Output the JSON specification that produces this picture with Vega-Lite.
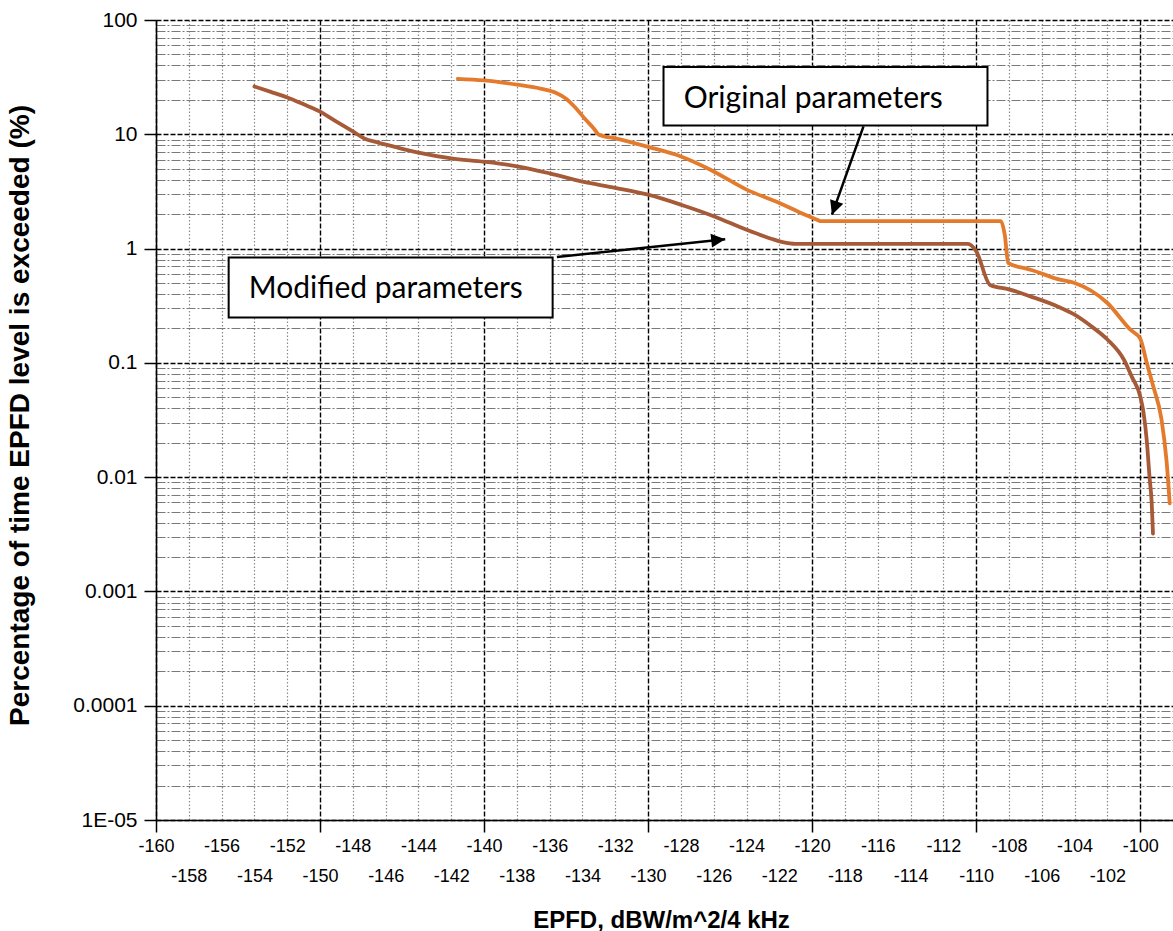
{
  "$schema": "https://vega.github.io/schema/vega-lite/v6.json",
  "width": 1017,
  "height": 800,
  "autosize": {"type": "none"},
  "padding": {"left": 156, "top": 20, "right": 0, "bottom": 111},
  "background": "white",
  "config": {
    "view": {"stroke": null},
    "font": "Liberation Sans"
  },
  "resolve": {"axis": {"x": "independent", "y": "independent"}},
  "datasets": {
    "curves": [
      {"series": "Modified parameters", "epfd": -154.0, "pct": 26.2},
      {"series": "Modified parameters", "epfd": -153.0, "pct": 23.5},
      {"series": "Modified parameters", "epfd": -152.0, "pct": 21.0},
      {"series": "Modified parameters", "epfd": -151.0, "pct": 18.3},
      {"series": "Modified parameters", "epfd": -150.0, "pct": 15.8},
      {"series": "Modified parameters", "epfd": -149.0, "pct": 12.9},
      {"series": "Modified parameters", "epfd": -148.0, "pct": 10.6},
      {"series": "Modified parameters", "epfd": -147.3, "pct": 9.2},
      {"series": "Modified parameters", "epfd": -146.5, "pct": 8.5},
      {"series": "Modified parameters", "epfd": -145.5, "pct": 7.8},
      {"series": "Modified parameters", "epfd": -144.0, "pct": 6.9},
      {"series": "Modified parameters", "epfd": -142.0, "pct": 6.15},
      {"series": "Modified parameters", "epfd": -140.0, "pct": 5.75},
      {"series": "Modified parameters", "epfd": -138.0, "pct": 5.25},
      {"series": "Modified parameters", "epfd": -136.0, "pct": 4.55},
      {"series": "Modified parameters", "epfd": -134.0, "pct": 3.85},
      {"series": "Modified parameters", "epfd": -132.0, "pct": 3.4},
      {"series": "Modified parameters", "epfd": -130.0, "pct": 2.96},
      {"series": "Modified parameters", "epfd": -128.0, "pct": 2.42},
      {"series": "Modified parameters", "epfd": -126.0, "pct": 1.92},
      {"series": "Modified parameters", "epfd": -124.0, "pct": 1.46},
      {"series": "Modified parameters", "epfd": -122.5, "pct": 1.22},
      {"series": "Modified parameters", "epfd": -121.8, "pct": 1.14},
      {"series": "Modified parameters", "epfd": -121.0, "pct": 1.1},
      {"series": "Modified parameters", "epfd": -118.0, "pct": 1.1},
      {"series": "Modified parameters", "epfd": -114.0, "pct": 1.1},
      {"series": "Modified parameters", "epfd": -110.5, "pct": 1.1},
      {"series": "Modified parameters", "epfd": -110.0, "pct": 0.95},
      {"series": "Modified parameters", "epfd": -109.15, "pct": 0.48},
      {"series": "Modified parameters", "epfd": -108.0, "pct": 0.44},
      {"series": "Modified parameters", "epfd": -106.7, "pct": 0.382},
      {"series": "Modified parameters", "epfd": -105.0, "pct": 0.31},
      {"series": "Modified parameters", "epfd": -104.0, "pct": 0.264},
      {"series": "Modified parameters", "epfd": -103.0, "pct": 0.21},
      {"series": "Modified parameters", "epfd": -102.0, "pct": 0.16},
      {"series": "Modified parameters", "epfd": -101.0, "pct": 0.107},
      {"series": "Modified parameters", "epfd": -100.5, "pct": 0.075},
      {"series": "Modified parameters", "epfd": -100.0, "pct": 0.051},
      {"series": "Modified parameters", "epfd": -99.8, "pct": 0.037},
      {"series": "Modified parameters", "epfd": -99.6, "pct": 0.021},
      {"series": "Modified parameters", "epfd": -99.43, "pct": 0.01},
      {"series": "Modified parameters", "epfd": -99.3, "pct": 0.006},
      {"series": "Modified parameters", "epfd": -99.22, "pct": 0.0032},
      {"series": "Original parameters", "epfd": -141.6, "pct": 30.6},
      {"series": "Original parameters", "epfd": -140.0, "pct": 29.6},
      {"series": "Original parameters", "epfd": -138.0, "pct": 27.2},
      {"series": "Original parameters", "epfd": -136.5, "pct": 25.0},
      {"series": "Original parameters", "epfd": -135.6, "pct": 23.0},
      {"series": "Original parameters", "epfd": -135.0, "pct": 20.5},
      {"series": "Original parameters", "epfd": -134.5, "pct": 17.5},
      {"series": "Original parameters", "epfd": -133.8, "pct": 13.4},
      {"series": "Original parameters", "epfd": -133.3, "pct": 11.2},
      {"series": "Original parameters", "epfd": -133.0, "pct": 9.9},
      {"series": "Original parameters", "epfd": -132.0, "pct": 9.2},
      {"series": "Original parameters", "epfd": -130.0, "pct": 7.75},
      {"series": "Original parameters", "epfd": -128.0, "pct": 6.4},
      {"series": "Original parameters", "epfd": -126.2, "pct": 4.9},
      {"series": "Original parameters", "epfd": -124.0, "pct": 3.28},
      {"series": "Original parameters", "epfd": -122.0, "pct": 2.51},
      {"series": "Original parameters", "epfd": -120.5, "pct": 2.0},
      {"series": "Original parameters", "epfd": -119.7, "pct": 1.79},
      {"series": "Original parameters", "epfd": -119.5, "pct": 1.74},
      {"series": "Original parameters", "epfd": -114.0, "pct": 1.74},
      {"series": "Original parameters", "epfd": -108.5, "pct": 1.74},
      {"series": "Original parameters", "epfd": -108.25, "pct": 1.3},
      {"series": "Original parameters", "epfd": -108.05, "pct": 0.75},
      {"series": "Original parameters", "epfd": -107.0, "pct": 0.67},
      {"series": "Original parameters", "epfd": -106.7, "pct": 0.653},
      {"series": "Original parameters", "epfd": -104.9, "pct": 0.534},
      {"series": "Original parameters", "epfd": -104.0, "pct": 0.5},
      {"series": "Original parameters", "epfd": -102.0, "pct": 0.334},
      {"series": "Original parameters", "epfd": -100.6, "pct": 0.195},
      {"series": "Original parameters", "epfd": -100.0, "pct": 0.163},
      {"series": "Original parameters", "epfd": -99.6, "pct": 0.1},
      {"series": "Original parameters", "epfd": -99.2, "pct": 0.062},
      {"series": "Original parameters", "epfd": -98.7, "pct": 0.032},
      {"series": "Original parameters", "epfd": -98.4, "pct": 0.0142},
      {"series": "Original parameters", "epfd": -98.2, "pct": 0.0059}
    ],
    "notes": [
      {"label": "Original parameters", "left": -129.06, "right": -109.31, "top": 38.8, "bottom": 11.96, "tx": -119.93, "ty": 17.0, "ax": -116.87, "ay": 11.73, "bx": -118.79, "by": 1.98, "angle": 199.7},
      {"label": "Modified parameters", "left": -155.57, "right": -135.82, "top": 0.837, "bottom": 0.25, "tx": -145.99, "ty": 0.37, "ax": -135.56, "ay": 0.844, "bx": -125.3, "by": 1.208, "angle": 84}
    ]
  },
  "layer": [
    {
      "data": {"name": "notes"},
      "mark": {"type": "rect", "fill": "white", "stroke": "#000", "strokeWidth": 2},
      "encoding": {
        "x": {
          "field": "left", "type": "quantitative",
          "scale": {"domain": [-160, -98], "nice": false, "zero": false},
          "axis": {
            "orient": "bottom", "title": null, "labels": false, "ticks": false, "domain": false,
            "values": [-158, -156, -154, -152, -148, -146, -144, -142, -138, -136, -134, -132, -128, -126, -124, -122, -118, -116, -114, -112, -108, -106, -104, -102],
            "grid": true, "gridColor": "#8a8a8a", "gridDash": [1.5, 2], "gridWidth": 1.2, "gridOpacity": 1
          }
        },
        "x2": {"field": "right"},
        "y": {
          "field": "top", "type": "quantitative",
          "scale": {"type": "log", "domain": [0.00001, 100], "nice": false},
          "axis": {
            "orient": "left", "title": null, "labels": false, "ticks": false, "domain": false,
            "values": [0.00002, 0.00003, 0.00004, 0.00005, 0.00006, 0.00007, 0.00008, 0.00009,
                       0.0002, 0.0003, 0.0004, 0.0005, 0.0006, 0.0007, 0.0008, 0.0009,
                       0.002, 0.003, 0.004, 0.005, 0.006, 0.007, 0.008, 0.009,
                       0.02, 0.03, 0.04, 0.05, 0.06, 0.07, 0.08, 0.09,
                       0.2, 0.3, 0.4, 0.5, 0.6, 0.7, 0.8, 0.9,
                       2, 3, 4, 5, 6, 7, 8, 9,
                       20, 30, 40, 50, 60, 70, 80, 90],
            "grid": true, "gridColor": "#7a7a7a", "gridDash": [9, 2, 2, 2], "gridWidth": 1.2, "gridOpacity": 1
          }
        },
        "y2": {"field": "bottom"}
      }
    },
    {
      "data": {"name": "notes"},
      "mark": {"type": "text", "font": "Lato", "fontSize": 30, "color": "#000", "align": "center", "baseline": "alphabetic"},
      "encoding": {
        "x": {
          "field": "tx", "type": "quantitative",
          "scale": {"domain": [-160, -98], "nice": false, "zero": false},
          "axis": {
            "orient": "bottom", "title": null, "grid": false, "ticks": false, "tickSize": 0, "domain": false,
            "values": [-160, -156, -152, -148, -144, -140, -136, -132, -128, -124, -120, -116, -112, -108, -104, -100],
            "labelExpr": "'' + datum.value",
            "labelFont": "Liberation Sans", "labelFontSize": 18, "labelColor": "#000",
            "labelBaseline": "top", "labelPadding": 17,
            "labelOverlap": false, "labelFlush": false, "labelBound": false
          }
        },
        "y": {"field": "ty", "type": "quantitative", "scale": {"type": "log", "domain": [0.00001, 100], "nice": false}, "axis": null},
        "text": {"field": "label"}
      }
    },
    {
      "data": {"name": "curves"},
      "mark": {"type": "line", "interpolate": "monotone", "strokeWidth": 3.8, "strokeJoin": "round", "strokeCap": "round"},
      "encoding": {
        "x": {
          "field": "epfd", "type": "quantitative",
          "scale": {"domain": [-160, -98], "nice": false, "zero": false},
          "axis": {
            "orient": "bottom",
            "values": [-160, -150, -140, -130, -120, -110, -100],
            "labels": false,
            "title": "EPFD, dBW/m^2/4 kHz",
            "titleFont": "Liberation Sans", "titleFontSize": 24, "titleFontWeight": "bold", "titleColor": "#000",
            "titleX": 505, "titleY": 107, "titleAlign": "center", "titleBaseline": "alphabetic",
            "domainColor": "#000", "domainWidth": 1.5,
            "ticks": true, "tickSize": 12, "tickWidth": 1.5, "tickColor": "#000",
            "grid": true, "gridColor": "#000", "gridDash": [5, 2], "gridWidth": 1.4, "gridOpacity": 1
          }
        },
        "y": {
          "field": "pct", "type": "quantitative",
          "scale": {"type": "log", "domain": [0.00001, 100], "nice": false},
          "axis": {
            "orient": "left",
            "values": [0.00001, 0.0001, 0.001, 0.01, 0.1, 1, 10, 100],
            "title": "Percentage of time EPFD level is exceeded (%)",
            "titleFont": "Liberation Sans", "titleFontSize": 28, "titleFontWeight": "bold", "titleColor": "#000",
            "titleAngle": 270, "titleX": -128, "titleY": 395, "titleAlign": "center", "titleBaseline": "alphabetic",
            "labelExpr": "datum.value < 0.00005 ? '1E-05' : '' + datum.value",
            "labelFont": "Liberation Sans", "labelFontSize": 21, "labelColor": "#000",
            "labelPadding": 7, "labelOverlap": false, "labelFlush": false, "labelBound": false,
            "domainColor": "#000", "domainWidth": 1.5,
            "ticks": true, "tickSize": 12, "tickWidth": 1.5, "tickColor": "#000",
            "grid": true, "gridColor": "#000", "gridDash": [5, 2], "gridWidth": 1.4, "gridOpacity": 1
          }
        },
        "color": {
          "field": "series", "type": "nominal",
          "scale": {"domain": ["Original parameters", "Modified parameters"], "range": ["#E47A2B", "#A65A37"]},
          "legend": null
        }
      }
    },
    {
      "data": {"name": "notes"},
      "mark": {"type": "rule", "color": "#000", "strokeWidth": 2.5},
      "encoding": {
        "x": {
          "field": "ax", "type": "quantitative",
          "scale": {"domain": [-160, -98], "nice": false, "zero": false},
          "axis": {
            "orient": "bottom", "title": null, "grid": false, "ticks": false, "tickSize": 0, "domain": false,
            "values": [-158, -154, -150, -146, -142, -138, -134, -130, -126, -122, -118, -114, -110, -106, -102],
            "labelExpr": "'' + datum.value",
            "labelFont": "Liberation Sans", "labelFontSize": 18, "labelColor": "#000",
            "labelBaseline": "top", "labelPadding": 47,
            "labelOverlap": false, "labelFlush": false, "labelBound": false
          }
        },
        "x2": {"field": "bx"},
        "y": {"field": "ay", "type": "quantitative", "scale": {"type": "log", "domain": [0.00001, 100], "nice": false}, "axis": null},
        "y2": {"field": "by"}
      }
    },
    {
      "data": {"name": "notes"},
      "mark": {"type": "point", "shape": "M0,0L-0.5,1L0.5,1Z", "size": 784, "filled": true, "color": "#000", "opacity": 1},
      "encoding": {
        "x": {"field": "bx", "type": "quantitative", "scale": {"domain": [-160, -98], "nice": false, "zero": false}, "axis": null},
        "y": {"field": "by", "type": "quantitative", "scale": {"type": "log", "domain": [0.00001, 100], "nice": false}, "axis": null},
        "angle": {"field": "angle", "type": "quantitative", "scale": null}
      }
    }
  ]
}
